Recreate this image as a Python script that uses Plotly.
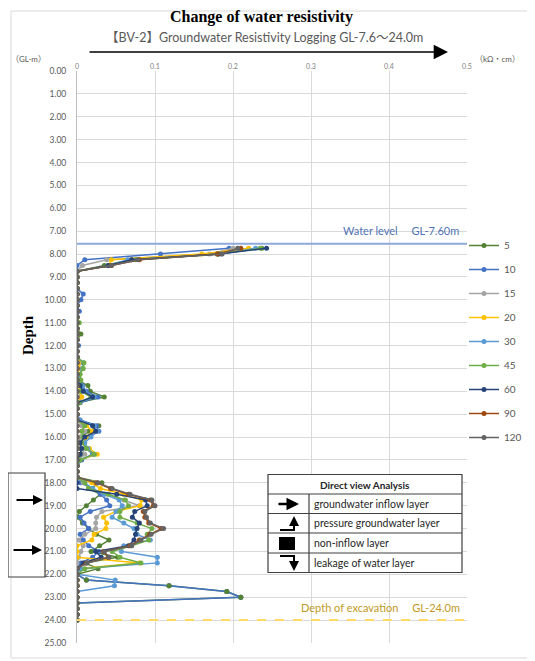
import plotly.graph_objects as go

# ---------------- data ----------------
depth = [7.75, 8.00, 8.25, 8.50, 8.75, 9.00, 9.25, 9.50, 9.75, 10.00, 10.25, 10.50,
         10.75, 11.00, 11.25, 11.50, 11.75, 12.00, 12.25, 12.50, 12.75, 13.00, 13.25,
         13.50, 13.75, 14.00, 14.25, 14.50, 14.75, 15.00, 15.25, 15.50, 15.75, 16.00,
         16.25, 16.50, 16.75, 17.00, 17.25, 17.50, 17.75, 18.00, 18.25, 18.50, 18.75,
         19.00, 19.25, 19.50, 19.75, 20.00, 20.25, 20.50, 20.75, 21.00, 21.25, 21.50,
         21.75, 22.00, 22.25, 22.50, 22.75, 23.00, 23.25, 23.50, 23.75, 24.00]

s5 = [0.237, 0.180, 0.070, 0.035, 0,
      0, 0, 0, 0, 0, 0, 0, 0, 0, 0, 0.005, 0, 0, 0, 0, 0, 0,
      0, 0, 0.014, 0.017, 0.035, 0, 0, 0,
      0, 0.028, 0.015, 0.005, 0, 0.004, 0.006, 0, 0,
      0, 0, 0.032, 0.015, 0.030, 0.021, 0.012, 0.003, 0, 0.007, 0.015, 0.025, 0.041,
      0.029, 0.018, 0.052, 0.010, 0.027, 0,
      0.012, 0.118, 0.192, 0.210, 0, 0, 0, 0]
s10 = [0.195, 0.107, 0.010, 0, 0,
       0, 0, 0, 0.008, 0.005, 0, 0.003, 0, 0, 0, 0, 0, 0.002, 0, 0, 0.004, 0.002,
       0, 0.002, 0.007, 0.012, 0.027, 0.004, 0, 0,
       0.004, 0.025, 0.028, 0.014, 0.008, 0.012, 0.020, 0.006, 0,
       0, 0, 0.005, 0.020, 0.030, 0.038, 0.042, 0.017, 0.004, 0.009, 0.015, 0.004, 0.008,
       0.015, 0.028, 0.020, 0.005, 0, 0,
       0.012, 0.118, 0.192, 0.210, 0, 0, 0, 0]
s15 = [0.200, 0.170, 0.038, 0.007, 0,
       0, 0, 0, 0, 0, 0, 0, 0, 0, 0, 0, 0, 0, 0, 0, 0, 0,
       0, 0, 0, 0, 0.006, 0, 0, 0,
       0, 0.006, 0.010, 0.004, 0, 0.006, 0.010, 0, 0,
       0, 0, 0.008, 0.020, 0.035, 0.060, 0.080, 0.032, 0.025, 0.024, 0.024, 0.010, 0.002,
       0.008, 0.005, 0.002, 0, 0, 0,
       0, 0, 0, 0, 0, 0, 0, 0]
s20 = [0.220, 0.160, 0.044, 0.041, 0,
       0, 0, 0, 0, 0, 0, 0, 0, 0, 0, 0, 0, 0, 0, 0, 0.003, 0.003,
       0, 0, 0.002, 0.004, 0.006, 0, 0, 0,
       0, 0.012, 0.020, 0.012, 0.008, 0.016, 0.026, 0.003, 0,
       0, 0, 0.019, 0.030, 0.060, 0.083, 0.081, 0.050, 0.034, 0.038, 0.037, 0.022, 0.019,
       0, 0, 0, 0.080, 0, 0,
       0, 0, 0, 0, 0, 0, 0, 0]
s30 = [0.229, 0.185, 0.065, 0.040, 0,
       0, 0, 0, 0, 0, 0, 0, 0, 0, 0, 0, 0, 0, 0, 0, 0.008, 0.007,
       0.003, 0.004, 0.006, 0.010, 0.022, 0.002, 0, 0,
       0.003, 0.022, 0.026, 0.018, 0.010, 0.014, 0.022, 0.004, 0,
       0, 0, 0.010, 0.020, 0.035, 0.054, 0.058, 0.050, 0.045, 0.060, 0.073, 0.077, 0.094,
       0.060, 0.057, 0.103, 0.103, 0.005, 0,
       0.049, 0.048, 0, 0, 0, 0, 0, 0]
s45 = [0.235, 0.180, 0.075, 0.040, 0,
       0, 0, 0, 0, 0, 0, 0, 0, 0.003, 0, 0, 0, 0, 0, 0, 0.009, 0.008,
       0.004, 0.005, 0.004, 0.005, 0.018, 0.003, 0, 0,
       0, 0.010, 0.006, 0.008, 0.006, 0.012, 0.022, 0.004, 0,
       0, 0, 0.010, 0.015, 0.040, 0.062, 0.066, 0.055, 0.055, 0.077, 0.096, 0.090, 0.092,
       0.070, 0.045, 0.055, 0.082, 0.010, 0,
       0, 0, 0, 0, 0, 0, 0, 0]
s60 = [0.243, 0.182, 0.070, 0.040, 0,
       0, 0, 0, 0, 0, 0, 0, 0, 0, 0, 0, 0, 0, 0, 0, 0, 0,
       0, 0, 0.004, 0.008, 0.020, 0, 0, 0,
       0, 0.020, 0.024, 0.010, 0.004, 0.006, 0.004, 0, 0,
       0, 0, 0, 0, 0.051, 0.088, 0.090, 0.074, 0.071, 0.080, 0.077, 0.075, 0.073,
       0.066, 0.024, 0.031, 0.008, 0, 0,
       0, 0, 0, 0, 0, 0, 0, 0]
s90 = [0.210, 0.180, 0.080, 0.044, 0,
       0, 0, 0, 0, 0, 0, 0, 0, 0, 0, 0, 0, 0, 0, 0, 0, 0,
       0, 0, 0, 0, 0, 0, 0, 0,
       0, 0, 0, 0, 0, 0, 0, 0, 0,
       0, 0, 0.025, 0.043, 0.066, 0.094, 0.098, 0.085, 0.087, 0.092, 0.108, 0.093, 0.080,
       0.068, 0.034, 0.040, 0.012, 0, 0,
       0, 0, 0, 0, 0, 0, 0, 0]
s120 = [0.206, 0.186, 0.078, 0.044, 0,
        0, 0, 0, 0, 0, 0, 0, 0, 0, 0, 0, 0, 0, 0, 0, 0, 0,
        0, 0, 0, 0, 0, 0, 0, 0,
        0, 0, 0, 0, 0, 0, 0, 0, 0,
        0, 0, 0.027, 0.045, 0.068, 0.096, 0.100, 0.087, 0.089, 0.094, 0.111, 0.095, 0.082,
        0.070, 0.035, 0.041, 0.013, 0, 0,
        0, 0, 0, 0, 0, 0, 0, 0]

series_names = ["5", "10", "15", "20", "30", "45", "60", "90", "120"]
series_values = [s5, s10, s15, s20, s30, s45, s60, s90, s120]
series_colors = ["#548235", "#4472C4", "#A5A5A5", "#FFC000", "#5B9BD5",
                 "#70AD47", "#264478", "#9E480E", "#636363"]

water_level = 7.55
excavation = 24.0
x_ticks = [0, 0.1, 0.2, 0.3, 0.4, 0.5]
x_ticklabels = ["0", "0.1", "0.2", "0.3", "0.4", "0.5"]

# ---------------- layout helpers ----------------
# the page body has an 8px margin, so the figure is drawn 8px in from the window corner
OFF = 8
W, H = 535 - OFF, 661 - OFF
L, R, T, B = 77, 467, 71, 643   # plot area in window pixels


def xp(px):
    return (px - L) / (R - L)


def yp(py):
    return (B - py) / (B - T)


fig = go.Figure()
for name, vals, col in zip(series_names, series_values, series_colors):
    fig.add_trace(go.Scatter(
        x=vals, y=depth, name=name, mode="lines+markers",
        line=dict(color=col, width=1.5), marker=dict(color=col, size=5),
        legendgroup=name, hoverinfo="skip"))

# dark green markers sit on top of the blue line in the deep spike
fig.add_trace(go.Scatter(
    x=s5[58:62], y=depth[58:62], mode="markers", showlegend=False,
    marker=dict(color=series_colors[0], size=5), hoverinfo="skip"))

shapes = []
annotations = []

# water level and excavation lines
shapes.append(dict(type="line", xref="paper", yref="y", x0=0, x1=1,
                   y0=water_level, y1=water_level,
                   line=dict(color="#8EA9DB", width=2), layer="above"))
shapes.append(dict(type="line", xref="paper", yref="y", x0=0, x1=1,
                   y0=excavation, y1=excavation,
                   line=dict(color="#FFD966", width=2, dash="dash"), layer="above"))
annotations.append(dict(xref="paper", yref="paper", x=xp(461), y=yp(230),
                        text="Water level　 GL-7.60m", showarrow=False,
                        xanchor="right", yanchor="middle",
                        font=dict(family="Lato, Noto Sans CJK JP", size=11, color="#4F73B5")))
annotations.append(dict(xref="paper", yref="paper", x=xp(462), y=yp(607),
                        text="Depth of excavation　 GL-24.0m", showarrow=False,
                        xanchor="right", yanchor="middle",
                        font=dict(family="Lato, Noto Sans CJK JP", size=11, color="#C09A1E")))

# outer chart border
shapes.append(dict(type="rect", xref="paper", yref="paper",
                   x0=xp(3 + OFF), x1=xp(532), y0=yp(3 + OFF), y1=yp(658),
                   line=dict(color="#D9D9D9", width=1), layer="below"))

# titles
annotations.append(dict(xref="paper", yref="paper", x=xp(261), y=yp(17),
                        text="<b>Change of water resistivity</b>", showarrow=False,
                        xanchor="center", yanchor="middle",
                        font=dict(family="Liberation Serif", size=16, color="black")))
annotations.append(dict(xref="paper", yref="paper", x=xp(264), y=yp(38),
                        text="【BV-2】Groundwater Resistivity Logging GL-7.6～24.0m",
                        showarrow=False, xanchor="center", yanchor="middle",
                        font=dict(family="Lato, Noto Sans CJK JP", size=12.5, color="#595959")))
annotations.append(dict(xref="paper", yref="paper", x=xp(448), y=yp(52),
                        ax=-360, ay=0, text="", showarrow=True,
                        arrowhead=2, arrowsize=2.2, arrowwidth=1.3, arrowcolor="black"))
annotations.append(dict(xref="paper", yref="paper", x=xp(28), y=yp(335),
                        text="<b>Depth</b>", textangle=-90, showarrow=False,
                        xanchor="center", yanchor="middle",
                        font=dict(family="Liberation Serif", size=15, color="black")))
annotations.append(dict(xref="paper", yref="paper", x=xp(28), y=yp(59),
                        text="（GL-m）", showarrow=False, xanchor="center", yanchor="middle",
                        font=dict(family="Lato, Noto Sans CJK JP", size=8, color="#595959")))
annotations.append(dict(xref="paper", yref="paper", x=xp(473), y=yp(59),
                        text="（kΩ・cm）", showarrow=False, xanchor="left", yanchor="middle",
                        font=dict(family="Lato, Noto Sans CJK JP", size=8, color="#595959")))

# direct view analysis table
tx0, tx1, tcol = 268, 462, 309
ty = [474.5, 494, 513.5, 533, 553, 572.5]
shapes.append(dict(type="rect", xref="paper", yref="paper",
                   x0=xp(tx0), x1=xp(tx1), y0=yp(ty[0]), y1=yp(ty[-1]),
                   line=dict(color="#404040", width=1.2), fillcolor="white", layer="above"))
for yy in ty[1:-1]:
    shapes.append(dict(type="line", xref="paper", yref="paper",
                       x0=xp(tx0), x1=xp(tx1), y0=yp(yy), y1=yp(yy),
                       line=dict(color="#404040", width=1.2), layer="above"))
shapes.append(dict(type="line", xref="paper", yref="paper",
                   x0=xp(tcol), x1=xp(tcol), y0=yp(ty[1]), y1=yp(ty[-1]),
                   line=dict(color="#404040", width=1.2), layer="above"))
annotations.append(dict(xref="paper", yref="paper", x=xp(365), y=yp(484.5),
                        text="<b>Direct view Analysis</b>", showarrow=False,
                        xanchor="center", yanchor="middle",
                        font=dict(family="Lato", size=10, color="#262626")))
row_texts = ["groundwater inflow layer", "pressure groundwater layer",
             "non-inflow layer", "leakage of water layer"]
for i, t in enumerate(row_texts):
    annotations.append(dict(xref="paper", yref="paper", x=xp(312), y=yp((ty[i + 1] + ty[i + 2]) / 2),
                            text=t, showarrow=False, xanchor="left", yanchor="middle",
                            font=dict(family="Lato", size=10.5, color="#262626")))
# icons
annotations.append(dict(xref="paper", yref="paper", x=xp(299), y=yp(504),
                        ax=-22, ay=0, text="", showarrow=True,
                        arrowhead=2, arrowsize=1, arrowwidth=2.5, arrowcolor="black"))
shapes.append(dict(type="path", xref="paper", yref="paper",
                   path=f"M {xp(280)},{yp(530)} L {xp(294)},{yp(530)} L {xp(294)},{yp(522)}",
                   line=dict(color="black", width=2), layer="above"))
annotations.append(dict(xref="paper", yref="paper", x=xp(294), y=yp(516),
                        ax=0, ay=8, text="", showarrow=True,
                        arrowhead=2, arrowsize=1, arrowwidth=2, arrowcolor="black"))
shapes.append(dict(type="rect", xref="paper", yref="paper",
                   x0=xp(279), x1=xp(295), y0=yp(537), y1=yp(550),
                   line=dict(color="black", width=0), fillcolor="black", layer="above"))
shapes.append(dict(type="path", xref="paper", yref="paper",
                   path=f"M {xp(280)},{yp(556)} L {xp(294)},{yp(556)} L {xp(294)},{yp(564)}",
                   line=dict(color="black", width=2), layer="above"))
annotations.append(dict(xref="paper", yref="paper", x=xp(294), y=yp(571),
                        ax=0, ay=-8, text="", showarrow=True,
                        arrowhead=2, arrowsize=1, arrowwidth=2, arrowcolor="black"))

# left box with inflow arrows
shapes.append(dict(type="rect", xref="paper", yref="paper",
                   x0=xp(8), x1=xp(45), y0=yp(473), y1=yp(577),
                   line=dict(color="#404040", width=1.2), layer="above"))
annotations.append(dict(xref="paper", yref="paper", x=xp(43), y=yp(500),
                        ax=-28, ay=0, text="", showarrow=True,
                        arrowhead=2, arrowsize=1, arrowwidth=2, arrowcolor="black"))
annotations.append(dict(xref="paper", yref="paper", x=xp(42), y=yp(550),
                        ax=-30, ay=0, text="", showarrow=True,
                        arrowhead=2, arrowsize=1, arrowwidth=2, arrowcolor="black"))

fig.update_layout(
    width=W, height=H,
    margin=dict(l=L - OFF, r=535 - R, t=T - OFF, b=661 - B, pad=0, autoexpand=False),
    paper_bgcolor="white", plot_bgcolor="white",
    showlegend=True,
    legend=dict(x=xp(464), y=yp(231), xanchor="left", yanchor="top",
                traceorder="grouped", tracegroupgap=5, itemwidth=30,
                font=dict(family="Lato", size=10, color="#595959"),
                bgcolor="rgba(0,0,0,0)"),
    shapes=shapes, annotations=annotations,
    xaxis=dict(range=[0, 0.5], side="top", tickmode="array", tickvals=x_ticks,
               ticktext=x_ticklabels, showgrid=True, gridcolor="#D9D9D9", gridwidth=1,
               zeroline=False, showline=False, ticks="",
               tickfont=dict(family="Lato", size=7, color="#808080")),
    yaxis=dict(range=[25, 0], dtick=1, tick0=0, tickformat=".2f",
               showgrid=True, gridcolor="#D9D9D9", gridwidth=1, zeroline=False,
               showline=True, linecolor="#BFBFBF", linewidth=1, ticks="",
               ticklabelstandoff=8,
               tickfont=dict(family="Lato", size=8.5, color="#595959")),
)

fig.write_html("out.html")
